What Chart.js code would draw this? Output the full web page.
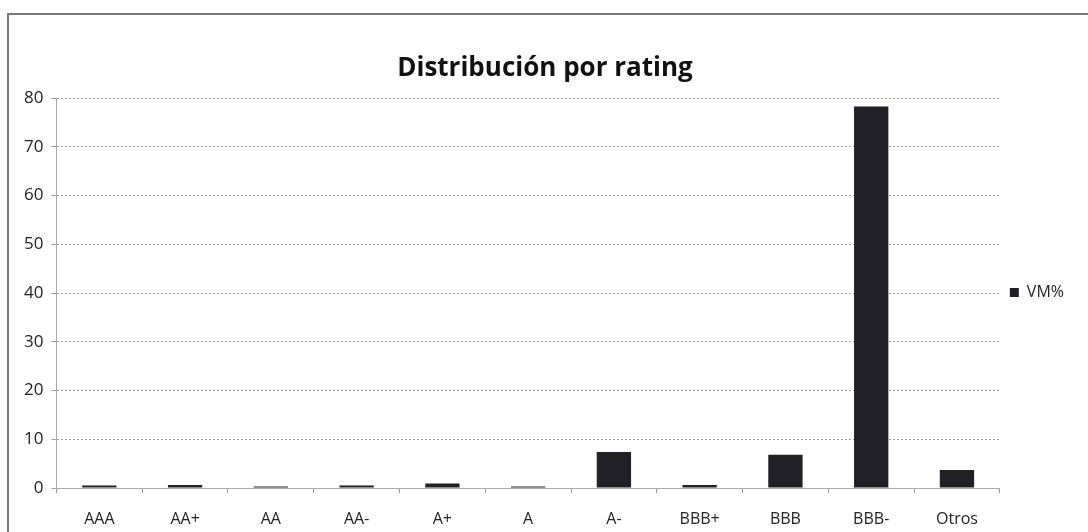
<!DOCTYPE html>
<html>
<head>
<meta charset="utf-8">
<script src="https://cdn.jsdelivr.net/npm/chart.js@4.4.1/dist/chart.umd.min.js"></script>
<style>
  html, body { margin: 0; padding: 0; background: #fff; }
  #frame { position: absolute; left: 7px; top: 13px; width: 1090px; height: 530px;
           border-left: 2px solid #777; border-top: 2px solid #777; }
  #wrap { position: absolute; left: 0; top: 0; width: 1088px; height: 532px; }
</style>
</head>
<body>
<div id="frame"></div>
<div id="wrap"><canvas id="myChart" width="1088" height="532"></canvas></div>
<script>
// values
var ratings = ['AAA', 'AA+', 'AA', 'AA-', 'A+', 'A', 'A-', 'BBB+', 'BBB', 'BBB-', 'Otros'];
var vmPct = [0.5, 0.6, 0.3, 0.5, 0.9, 0.3, 7.4, 0.6, 6.8, 78.3, 3.7];
var yTicks = [0, 10, 20, 30, 40, 50, 60, 70, 80];

var font = "'Open Sans', 'Liberation Sans', sans-serif";

var dataSource = {
    labels: ratings,
    datasets: [
        {
            label: 'VM%',
            data: vmPct,
            backgroundColor: '#202026',
            borderWidth: 0,
            categoryPercentage: 1.0,
            barPercentage: 0.4
        }
    ]
};

var ctx = document.getElementById('myChart').getContext('2d');
var myBarChart = new Chart(ctx, {
    type: 'bar',
    data: dataSource,
    options: {
        responsive: false,
        animation: false,
        layout: { padding: { left: 16, right: 14, top: 53, bottom: 0 } },
        plugins: {
            title: {
                display: true,
                text: 'Distribución por rating',
                color: '#111',
                font: { family: font, size: 26, weight: 'bold' },
                padding: { top: 0, bottom: 14 }
            },
            legend: {
                position: 'right',
                labels: {
                    color: '#222',
                    font: { family: font, size: 16 },
                    boxWidth: 9,
                    boxHeight: 9,
                    padding: 10
                }
            },
            tooltip: { enabled: false }
        },
        scales: {
            x: {
                grid: { display: true, drawOnChartArea: false, offset: true, tickLength: 5, color: '#999' },
                border: { color: '#aaa', dash: [2, 2] },
                ticks: { color: '#222', font: { family: font, size: 16 }, padding: 17 },
                afterFit: function (axis) { axis.height = 44; }
            },
            y: {
                min: 0,
                max: 80,
                afterBuildTicks: function (axis) {
                    axis.ticks = yTicks.map(function (v) { return { value: v }; });
                },
                grid: { color: '#9a9a9a', tickLength: 5 },
                border: { color: '#aaa', dash: [2, 2] },
                ticks: { color: '#222', font: { family: font, size: 17 }, padding: 8 }
            }
        }
    }
});
// dotted gridlines like the scan
myBarChart.options.scales.y.grid.borderDash = [2, 2];
myBarChart.update();
</script>
</body>
</html>
